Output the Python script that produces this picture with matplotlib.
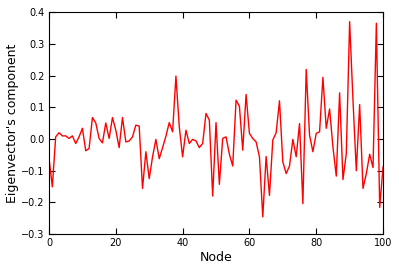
import numpy as np
import matplotlib
matplotlib.use('Agg')
import matplotlib.pyplot as plt

# eigenvector component of each node
component = [
    -0.06, -0.151, 0.007, 0.02, 0.01, 0.01, 0.002, 0.01, -0.014, 0.007,
    0.034, -0.037, -0.03, 0.068, 0.051, 0.002, -0.012, 0.051, 0.002, 0.068,
    0.028, -0.027, 0.068, -0.009, -0.006, 0.007, 0.044, 0.041, -0.156, -0.04,
    -0.125, -0.056, -0.001, -0.062, -0.027, 0.009, 0.052, 0.023, 0.199, 0.039,
    -0.056, 0.028, -0.014, -0.001, -0.006, -0.027, -0.014, 0.081, 0.06, -0.18,
    0.052, -0.143, 0.002, 0.007, -0.048, -0.085, 0.123, 0.104, -0.035, 0.141,
    0.018, 0.002, -0.009, -0.056, -0.246, -0.055, -0.178, -0.003, 0.02, 0.121,
    -0.072, -0.109, -0.085, -0.001, -0.056, 0.049, -0.204, 0.220, 0.012, -0.04,
    0.018, 0.023, 0.195, 0.034, 0.095, -0.025, -0.117, 0.146, -0.128, -0.046,
    0.371, 0.123, -0.1, 0.109, -0.156, -0.109, -0.048, -0.09, 0.366, -0.216,
    -0.088,
]
nodes = np.arange(len(component))

fig = plt.figure(figsize=(3.99, 2.71), dpi=100)
ax = fig.add_axes([0.1228, 0.1365, 0.8372, 0.8175])
ax.plot(nodes, component, 'r-', linewidth=1)

ax.set_xlim(0, 100)
ax.set_ylim(-0.3, 0.4)
ax.set_xticks([0, 20, 40, 60, 80, 100])
ax.set_yticks(np.arange(-0.3, 0.41, 0.1))
fmt = lambda v, pos: ('%.1f' % (0.0 if abs(v) < 1e-9 else v)).replace('-', '\u2212')
ax.yaxis.set_major_formatter(matplotlib.ticker.FuncFormatter(fmt))
ax.tick_params(direction='in', top=True, right=True, labelsize=7, length=4, pad=3)
ax.set_xlabel('Node', fontsize=9, labelpad=2)
ax.set_ylabel("Eigenvector's component", fontsize=9, labelpad=2)

fig.savefig('out.png', dpi=100)
